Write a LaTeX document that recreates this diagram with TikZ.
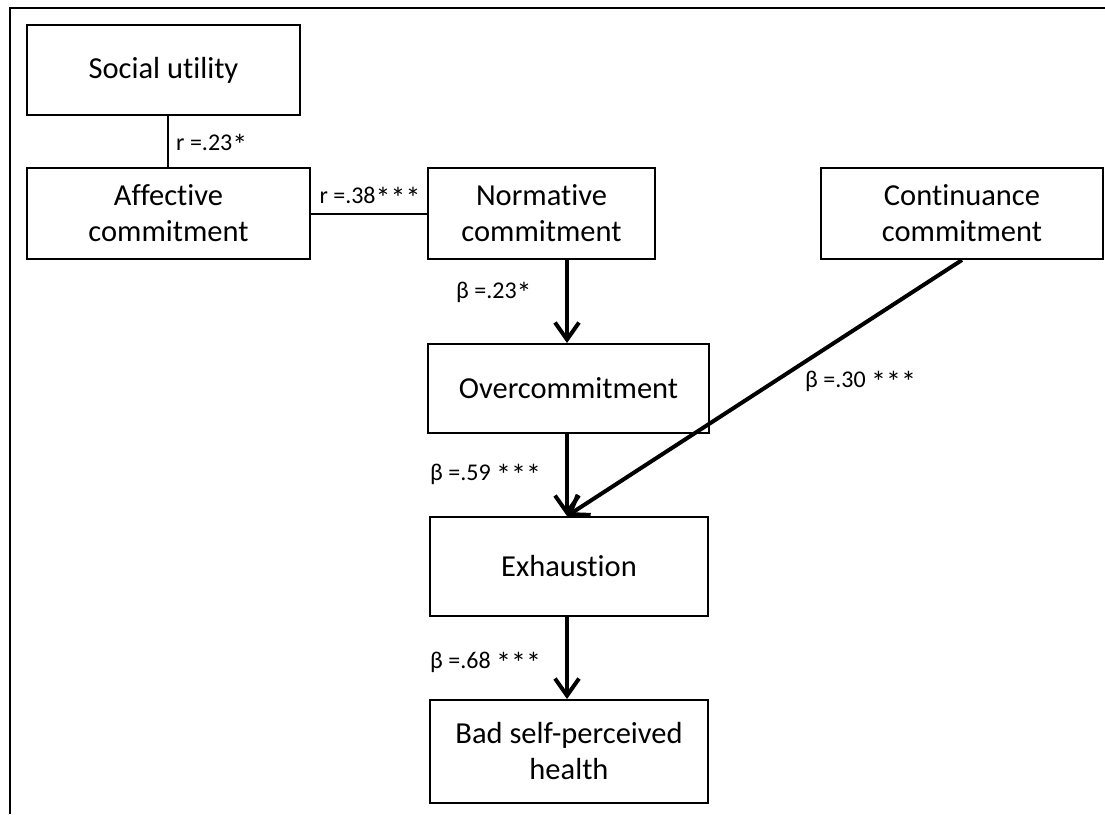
\documentclass[tikz,border=0pt]{standalone}
\usepackage{fontspec}
\setmainfont{Carlito}[Ligatures=NoCommon]
\usetikzlibrary{arrows.meta}
\newcommand\myast{\raisebox{-0.2em}{\scalebox{1.25}{*}}}
\begin{document}
\begin{tikzpicture}[x=1pt,y=-1pt,
  boxnode/.style={draw,line width=2pt,rectangle,inner sep=0pt,align=center,
    font=\fontsize{30.5}{36}\selectfont},
  lbl/.style={inner sep=0pt,font=\fontsize{24}{29}\selectfont},
  corr/.style={line width=2pt},
  path/.style={line width=4pt,-{Straight Barb[length=17pt,width=24pt]}}]
\useasboundingbox (0,0) rectangle (1105,814);
% frame (partly cut off)
\draw[line width=2pt] (10,814) -- (10,8) -- (1105,8);
% boxes
\node[boxnode,minimum width=273pt,minimum height=90pt] (soc) at (163.5,70) {Social utility};
\node[boxnode,minimum width=283pt,minimum height=91pt] (aff) at (168.5,213.5) {Affective\\commitment};
\node[boxnode,minimum width=227pt,minimum height=91pt] (norm) at (541.5,213.5) {Normative\\commitment};
\node[boxnode,minimum width=282pt,minimum height=91pt] (cont) at (962,213.5) {Continuance\\commitment};
\node[boxnode,minimum width=281pt,minimum height=89pt] (over) at (568.5,388.5) {Overcommitment};
\node[boxnode,minimum width=278pt,minimum height=99pt] (exh) at (569,566.5) {Exhaustion};
\node[boxnode,minimum width=278pt,minimum height=103pt] (bad) at (569,751.5) {Bad self-perceived\\health};
% correlations
\coordinate (socb) at (168,115);
\draw[corr] (soc.south -| socb) -- (aff.north -| socb);
\draw[corr] (aff.east) -- (norm.west);
% paths
\coordinate (ax) at (567,0);
\draw[path] (norm.south -| ax) -- (over.north -| ax);
\draw[path] (over.south -| ax) -- (exh.north -| ax);
\draw[path] (exh.south -| ax) -- (bad.north -| ax);
\draw[path] (cont.south) -- (exh.north -| ax);
% labels
\node[lbl,anchor=west] (l1) at (176,145) {r =.23\myast};
\node[lbl] (l2) at (370,198) {r =.38\myast\myast\myast};
\node[lbl,anchor=west] (l3) at (456,293) {β =.23\myast};
\node[lbl,anchor=west] (l4) at (430,475) {β =.59 \myast\myast\myast};
\node[lbl,anchor=west] (l5) at (805,382) {β =.30 \myast\myast\myast};
\node[lbl,anchor=west] (l6) at (430,663) {β =.68 \myast\myast\myast};
\end{tikzpicture}
\end{document}
